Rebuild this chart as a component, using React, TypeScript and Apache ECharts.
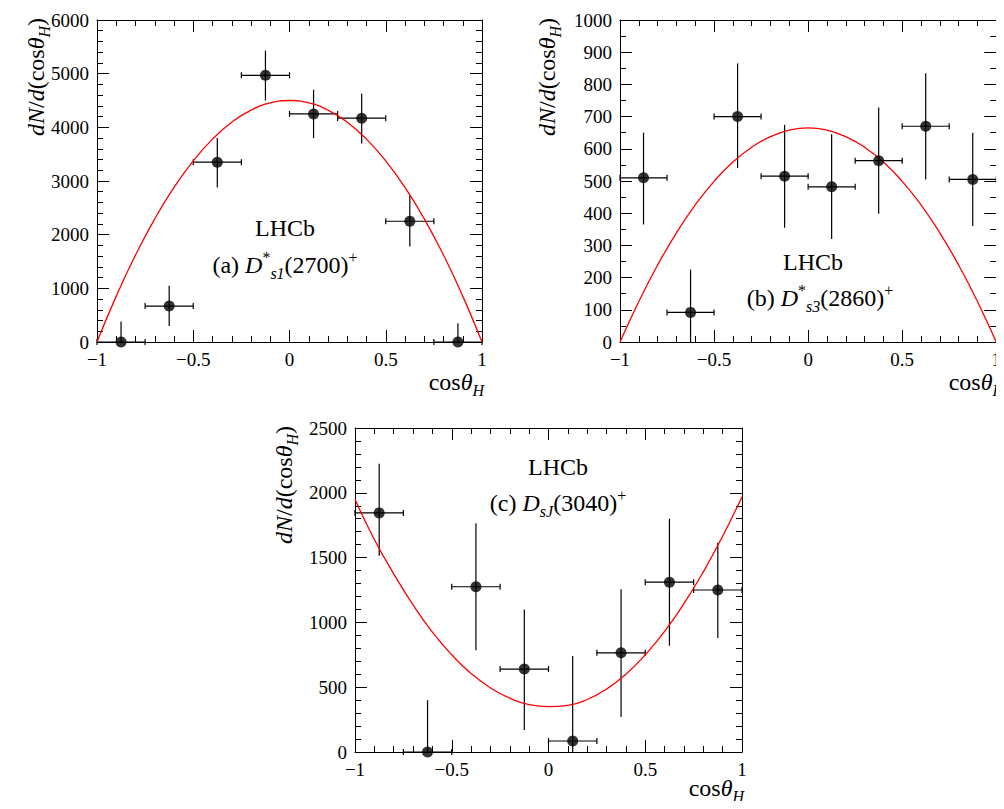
import React, { useEffect, useRef } from "react";
import * as echarts from "echarts";

const binCenters = [-0.875, -0.625, -0.375, -0.125, 0.125, 0.375, 0.625, 0.875];
const valsA = [0, 670, 3350, 4970, 4250, 4170, 2250, 0];
const loA = [0, 300, 2880, 4500, 3800, 3700, 1780, 0];
const hiA = [380, 1050, 3800, 5430, 4700, 4630, 2730, 350];
const valsB = [510, 92, 700, 515, 482, 563, 670, 505];
const loB = [365, 0, 540, 355, 320, 398, 505, 360];
const hiB = [650, 225, 865, 675, 645, 728, 835, 650];
const valsC = [1845, 0, 1275, 640, 85, 765, 1310, 1250];
const loC = [1515, 0, 785, 170, 0, 270, 820, 880];
const hiC = [2225, 400, 1765, 1100, 740, 1255, 1800, 1615];
const fitX = [-1, -0.9, -0.8, -0.7, -0.6, -0.5, -0.4, -0.3, -0.2, -0.1, 0, 0.1, 0.2, 0.3, 0.4, 0.5, 0.6, 0.7, 0.8, 0.9, 1];
const fitA = [0, 855, 1620, 2295, 2880, 3375, 3780, 4095, 4320, 4455, 4500, 4455, 4320, 4095, 3780, 3375, 2880, 2295, 1620, 855, 0];
const fitB = [0, 126, 239, 339, 426, 499, 559, 605, 638, 658, 665, 658, 638, 605, 559, 499, 426, 339, 239, 126, 0];
const fitC = [1950, 1640, 1375, 1135, 925, 750, 605, 495, 415, 365, 350, 360, 405, 485, 600, 750, 930, 1145, 1390, 1665, 1970];

const FONT = "Liberation Serif";
const rich = {
  i: { fontStyle: "italic", fontFamily: FONT, fontSize: 24, fill: "#000", lineHeight: 32, verticalAlign: "middle" },
  s: { fontStyle: "italic", fontFamily: FONT, fontSize: 16, fill: "#000", lineHeight: 32, verticalAlign: "bottom" },
  n: { fontFamily: FONT, fontSize: 24, fill: "#000", lineHeight: 32, verticalAlign: "middle" },
  sup: { fontFamily: FONT, fontSize: 16, fill: "#000", lineHeight: 32, verticalAlign: "top" },
};

const App: React.FC = () => {
  const ref = useRef<HTMLDivElement>(null);
  useEffect(() => {
    const chart = echarts.init(ref.current as HTMLDivElement, null, { renderer: "svg" });
    const grids = [
      { left: 97, top: 20, width: 385, height: 322, max: 6000, interval: 1000, vals: valsA, lo: loA, hi: hiA, fit: fitA, nameX: 36, xl: 40 },
      { left: 620, top: 20, width: 382, height: 322, max: 1000, interval: 100, vals: valsB, lo: loB, hi: hiB, fit: fitB, nameX: 547, xl: 40 },
      { left: 355, top: 428, width: 387, height: 324, max: 2500, interval: 500, vals: valsC, lo: loC, hi: hiC, fit: fitC, nameX: 284, xl: 36 },
    ];
    const axisCommon = {
      axisLine: { onZero: false, lineStyle: { color: "#000", width: 1 } },
      axisTick: { inside: true, length: 12, lineStyle: { color: "#000" } },
      minorTick: { show: true, length: 6, lineStyle: { color: "#000" } },
      splitLine: { show: false },
      axisLabel: { color: "#000", fontFamily: FONT, fontSize: 19 },
    };
    const xAxis: any[] = [];
    const yAxis: any[] = [];
    const series: any[] = [];
    const graphic: any[] = [];
    grids.forEach((g, i) => {
      xAxis.push({
        ...axisCommon, gridIndex: i, type: "value", min: -1, max: 1, interval: 0.5,
        minorTick: { ...axisCommon.minorTick, splitNumber: 5 },
        axisLabel: { ...axisCommon.axisLabel, formatter: (v: number) => (v === 0 ? "0" : String(v).replace("-", "−")) },
      });
      xAxis.push({
        ...axisCommon, gridIndex: i, type: "value", min: -1, max: 1, interval: 0.5, position: "top",
        minorTick: { ...axisCommon.minorTick, splitNumber: 5 }, axisLabel: { show: false },
      });
      yAxis.push({
        ...axisCommon, gridIndex: i, type: "value", min: 0, max: g.max, interval: g.interval,
        minorTick: { ...axisCommon.minorTick, splitNumber: g.interval === 100 ? 2 : 5 },
        axisLabel: { ...axisCommon.axisLabel, formatter: (v: number) => String(v) },
      });
      yAxis.push({
        ...axisCommon, gridIndex: i, type: "value", min: 0, max: g.max, interval: g.interval, position: "right",
        minorTick: { ...axisCommon.minorTick, splitNumber: g.interval === 100 ? 2 : 5 }, axisLabel: { show: false },
      });
      series.push({
        type: "line", xAxisIndex: 2 * i, yAxisIndex: 2 * i, smooth: true, symbol: "none",
        lineStyle: { color: "#ff0000", width: 1.3 }, data: fitX.map((x, k) => [x, g.fit[k]]),
      });
      series.push({
        type: "custom", xAxisIndex: 2 * i, yAxisIndex: 2 * i,
        data: binCenters.map((x, k) => [x, g.vals[k], g.lo[k], g.hi[k]]),
        renderItem: (_p: any, api: any) => {
          const x = api.value(0), y = api.value(1);
          const l = api.coord([x - 0.125, y]);
          const r = api.coord([x + 0.125, y]);
          const lo = api.coord([x, api.value(2)]);
          const hi = api.coord([x, api.value(3)]);
          const st = { stroke: "#000", lineWidth: 1.2 };
          return {
            type: "group",
            children: [
              { type: "line", shape: { x1: l[0], y1: l[1], x2: r[0], y2: r[1] }, style: st },
              { type: "line", shape: { x1: l[0], y1: l[1] - 3, x2: l[0], y2: l[1] + 3 }, style: st },
              { type: "line", shape: { x1: r[0], y1: r[1] - 3, x2: r[0], y2: r[1] + 3 }, style: st },
              { type: "line", shape: { x1: lo[0], y1: lo[1], x2: hi[0], y2: hi[1] }, style: st },
            ],
          };
        },
      });
      series.push({
        type: "scatter", xAxisIndex: 2 * i, yAxisIndex: 2 * i, symbolSize: 11,
        itemStyle: { color: "#000" }, data: binCenters.map((x, k) => [x, g.vals[k]]), z: 5,
      });
      graphic.push({
        type: "text", x: g.nameX, y: g.top - 2, rotation: Math.PI / 2,
        style: { text: "{i|dN}{n|/}{i|d}{n|(cos}{i|θ}{s|H}{n|)}", rich, align: "right", verticalAlign: "middle" },
      });
      graphic.push({
        type: "text", x: g.left + g.width + 2, y: g.top + g.height + g.xl,
        style: { text: "{n|cos}{i|θ}{s|H}", rich, align: "right", verticalAlign: "middle" },
      });
    });
    const label = (x: number, y: number, t: string) => ({
      type: "text", x, y, style: { text: t, rich, align: "center", verticalAlign: "middle" },
    });
    graphic.push(
      label(285, 228, "{n|LHCb}"),
      label(285, 265, "{n|(a) }{i|D}{sup|*}{s|s1}{n|(2700)}{sup|+}"),
      label(813, 262, "{n|LHCb}"),
      label(820, 298, "{n|(b) }{i|D}{sup|*}{s|s3}{n|(2860)}{sup|+}"),
      label(558, 467, "{n|LHCb}"),
      label(558, 503, "{n|(c) }{i|D}{s|sJ}{n|(3040)}{sup|+}"),
    );
    chart.setOption({
      animation: false,
      grid: grids.map((g) => ({ left: g.left, top: g.top, width: g.width, height: g.height, show: false })),
      xAxis, yAxis, series, graphic,
    });
    return () => chart.dispose();
  }, []);
  return <div ref={ref} style={{ width: "1004px", height: "809px", margin: "-8px" }} />;
};
export default App;
